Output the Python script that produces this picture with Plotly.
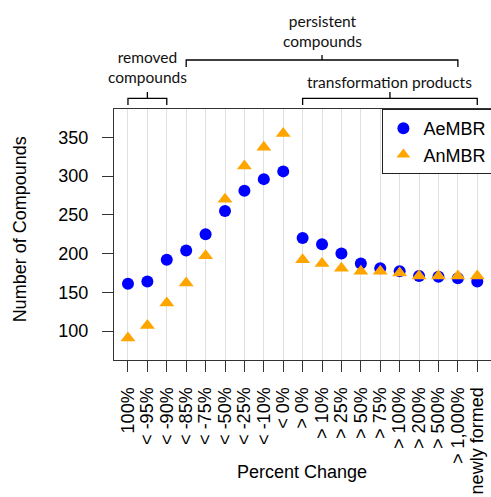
import plotly.graph_objects as go

categories = ["100%", "< -95%", "< -90%", "< -85%", "< -75%", "< -50%", "< -25%", "< -10%", "< 0%",
              "> 0%", "> 10%", "> 25%", "> 50%", "> 75%", "> 100%", "> 200%", "> 500%", "> 1,000%",
              "newly formed"]
aembr = [161, 164, 192, 204, 225, 255, 281, 296, 306,
         220, 212, 200, 187, 181, 177, 171, 170, 168, 164]
anmbr = [91, 107, 136, 162, 197, 270, 313, 337, 355,
         192, 187, 181, 177, 177, 175, 171, 171, 171, 171]
y_ticks = [100, 150, 200, 250, 300, 350]

# bracket groups: (label, first category, last category, level)
groups = [
    ("removed<br>compounds", "100%", "< -90%", 0),
    ("persistent<br>compounds", "< -85%", "> 1,000%", 1),
    ("transformation products", "> 0%", "newly formed", 0),
]

xi = list(range(len(categories)))
FONT = "Liberation Sans, Arial, sans-serif"

fig = go.Figure()
fig.add_trace(go.Scatter(x=xi, y=aembr, mode="markers", name="AeMBR",
                         marker=dict(symbol="circle", size=12, color="#0000FF", line=dict(width=0))))
fig.add_trace(go.Scatter(x=xi, y=anmbr, mode="markers", name="AnMBR",
                         marker=dict(symbol="triangle-up", size=13, color="#FFA500", line=dict(width=0))))

W, H = 493, 497
left, right, top, bottom = 113.7, 493, 109, 360
pw, ph = right - left, bottom - top

def py(p):
    return (bottom - p) / ph

shapes = []
annotations = []
level_y = {0: (98.3, 105, 92, 81.7), 1: (60, 67, 55, 31.3)}
for label, a, b, lvl in groups:
    i0, i1 = categories.index(a), categories.index(b)
    yl, ye, ym, yt = level_y[lvl]
    mid = (i0 + i1) / 2
    path = (f"M {i0},{py(ye)} L {i0},{py(yl)} L {i1},{py(yl)} L {i1},{py(ye)} "
            f"M {mid},{py(yl)} L {mid},{py(ym)}")
    shapes.append(dict(type="path", xref="x", yref="paper", path=path,
                       line=dict(color="black", width=1.3)))
    if lvl == 0 and i0 == 0:
        yt = 67
    annotations.append(dict(x=mid, xref="x", y=py(yt), yref="paper", text=label, showarrow=False,
                             xanchor="center", yanchor="middle",
                             font=dict(family="Lato, Carlito, sans-serif", size=15.5, color="#111")))

annotations.append(dict(x=(302 - left) / pw, y=py(472), xref="paper", yref="paper", text="Percent Change",
                        showarrow=False, xanchor="center", yanchor="middle",
                        font=dict(family=FONT, size=18, color="black")))
annotations.append(dict(x=(20 - left) / pw, y=py(229), xref="paper", yref="paper",
                        text="Number of Compounds", textangle=-90, showarrow=False,
                        xanchor="center", yanchor="middle",
                        font=dict(family=FONT, size=18, color="black")))

fig.update_layout(
    width=W, height=H,
    margin=dict(l=left, r=0, t=top, b=H - bottom, pad=0),
    plot_bgcolor="white", paper_bgcolor="white",
    font=dict(family=FONT, size=18, color="black"),
    showlegend=True,
    legend=dict(x=(382.3 - left) / pw, y=1, xanchor="left", yanchor="top",
                bordercolor="#222", borderwidth=1, bgcolor="white",
                font=dict(family=FONT, size=18, color="black"),
                itemsizing="constant"),
    shapes=shapes, annotations=annotations,
)
fig.update_xaxes(range=[-0.72, (right - 127.7) / 19.42], tickmode="array", tickvals=xi,
                 ticktext=categories, tickangle=-90, ticks="outside", ticklen=11,
                 tickcolor="#333", tickwidth=1.3, showgrid=True, gridcolor="#e0e0e0", gridwidth=1,
                 showline=True, linecolor="#333", linewidth=1.3, mirror=True, zeroline=False,
                 ticklabelstandoff=8, tickfont=dict(family=FONT, size=18, color="black"))
fig.update_yaxes(range=[62.6, 386.5], tickmode="array", tickvals=y_ticks, ticks="outside",
                 ticklen=11, tickcolor="#333", tickwidth=1.3, showgrid=False,
                 showline=True, linecolor="#333", linewidth=1.3, mirror=True, zeroline=False,
                 ticklabelstandoff=10, tickfont=dict(family=FONT, size=18, color="black"))

fig.write_html("out.html", config={"displayModeBar": False},
               post_script="document.body.style.margin='0';document.body.style.overflow='hidden';")
